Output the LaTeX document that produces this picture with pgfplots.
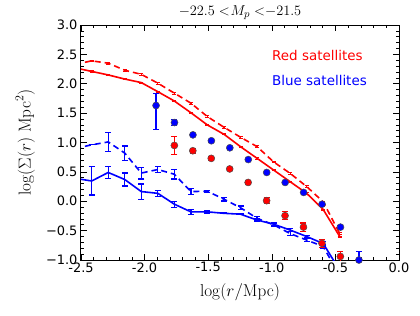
\documentclass[border=0pt]{standalone}
\usepackage[no-math]{fontspec}
\setmainfont{DejaVu Sans}
\usepackage{pgfplots}
\pgfplotsset{compat=1.18}
\usepackage{pgfplotstable}

\pgfplotstableread{
x y e
-2.546 2.27 0
-2.416 2.21 0.01
-2.286 2.15 0.01
-2.156 2.08 0.01
-2.026 2.02 0.01
-1.896 1.865 0.01
-1.766 1.706 0.01
-1.636 1.507 0.01
-1.506 1.298 0.01
-1.376 1.14 0.01
-1.246 0.929 0.01
-1.116 0.731 0.01
-0.986 0.532 0.01
-0.856 0.333 0.01
-0.726 0.135 0.01
-0.596 -0.14 0.01
-0.466 -0.60 0.01
}\redsolid

\pgfplotstableread{
x y e
-2.546 2.33 0
-2.416 2.39 0.015
-2.286 2.35 0.015
-2.156 2.23 0.015
-2.026 2.16 0.015
-1.896 2.01 0.015
-1.766 1.84 0.015
-1.636 1.67 0.015
-1.506 1.44 0.015
-1.376 1.26 0.015
-1.246 1.09 0.015
-1.116 0.93 0.015
-0.986 0.67 0.015
-0.856 0.475 0.015
-0.726 0.25 0.015
-0.596 -0.01 0.015
-0.466 -0.55 0.015
}\reddashed

\pgfplotstableread{
x y e
-2.546 0.39 0
-2.416 0.345 0.24
-2.286 0.49 0.10
-2.156 0.37 0.11
-2.026 0.165 0.13
-1.896 0.135 0.05
-1.766 -0.05 0.05
-1.636 -0.18 0.04
-1.506 -0.18 0.02
-1.376 -0.205 0.01
-1.246 -0.22 0.01
-1.116 -0.32 0.02
-0.986 -0.39 0.02
-0.856 -0.49 0.02
-0.726 -0.60 0.02
-0.596 -0.72 0.03
-0.466 -1.175 0
}\bluesolid

\pgfplotstableread{
x y e
-2.546 0.90 0
-2.416 0.96 0
-2.286 1.01 0.16
-2.156 0.82 0.12
-2.026 0.48 0.10
-1.896 0.54 0.05
-1.766 0.46 0.08
-1.636 0.165 0.05
-1.506 0.17 0.02
-1.376 0.035 0.03
-1.246 -0.11 0.03
-1.116 -0.29 0.03
-0.986 -0.40 0.03
-0.856 -0.55 0.03
-0.726 -0.66 0.03
-0.596 -0.77 0.04
-0.466 -1.27 0
}\bluedashed

\pgfplotstableread{
x y ep em
-1.766 0.95 0.15 0.15
-1.621 0.86 0.04 0.04
-1.476 0.73 0.03 0.03
-1.331 0.55 0.03 0.03
-1.186 0.32 0.03 0.03
-1.041 0.01 0.05 0.05
-0.896 -0.245 0.07 0.07
-0.751 -0.44 0.07 0.07
-0.606 -0.715 0.07 0.07
-0.461 -0.94 0.08 0.08
}\reddots

\pgfplotstableread{
x y ep em
-1.910 1.63 0.20 0.41
-1.765 1.34 0.05 0.05
-1.620 1.13 0.02 0.02
-1.475 1.03 0.02 0.02
-1.330 0.91 0.02 0.02
-1.185 0.71 0.02 0.02
-1.040 0.49 0.02 0.02
-0.895 0.32 0.02 0.02
-0.750 0.15 0.02 0.02
-0.605 -0.05 0.03 0.03
-0.460 -0.44 0.03 0.03
-0.315 -1.00 0.14 0.10
}\bluedots

\begin{document}
\begin{tikzpicture}
\begin{axis}[
  scale only axis, width=318bp, height=235bp,
  xmin=-2.5, xmax=0, ymin=-1, ymax=3,
  xtick={-2.5,-2,-1.5,-1,-0.5,0},
  xticklabels={-2.5,-2.0,-1.5,-1.0,-0.5,0.0},
  ytick={-1,-0.5,0,0.5,1,1.5,2,2.5,3},
  yticklabels={−1.0,−0.5,0.0,0.5,1.0,1.5,2.0,2.5,3.0},
  minor x tick num=4, minor y tick num=4,
  tick align=inside, tick pos=both,
  major tick length=6bp, minor tick length=3bp,
  tick style={black, line width=0.6bp},
  axis line style={line width=1bp},
  ticklabel style={font=\fontsize{13}{15}\selectfont},
  xticklabel style={yshift=1bp},
  xlabel={$\log(r/\mathrm{Mpc})$},
  ylabel={$\log(\Sigma(r)\;\mathrm{Mpc}^2)$},
  label style={font=\fontsize{18}{20}\selectfont},
  xlabel style={at={(axis description cs:0.5,-0.136)}, anchor=center},
  ylabel style={at={(axis description cs:-0.175,0.5)}, anchor=center},
  title={$-22.5\mkern5mu{<}\mkern1mu M_p\mkern5mu{<}{-}21.5$},
  title style={at={(axis description cs:0.5,1.014)}, anchor=base, font=\fontsize{15}{17}\selectfont},
  error bars/error bar style={solid, line width=1.2bp},
  error bars/error mark options={rotate=90, mark size=3bp, line width=1.2bp, solid},
]
\addplot[red, line width=1.6bp, mark=none,
  error bars/.cd, y dir=both, y explicit,
  error mark options={rotate=90, mark size=2bp, line width=0.8bp, solid}]
  table[x=x, y=y, y error=e] {\redsolid};
\addplot[red, line width=1.6bp, dash pattern=on 6bp off 4bp, mark=none,
  error bars/.cd, y dir=both, y explicit,
  error mark options={rotate=90, mark size=2bp, line width=0.8bp, solid}]
  table[x=x, y=y, y error=e] {\reddashed};
\addplot[blue, line width=1.6bp, mark=none,
  error bars/.cd, y dir=both, y explicit] table[x=x, y=y, y error=e] {\bluesolid};
\addplot[blue, line width=1.6bp, dash pattern=on 6bp off 4bp, mark=none,
  error bars/.cd, y dir=both, y explicit] table[x=x, y=y, y error=e] {\bluedashed};
\addplot[red, only marks, mark=*, mark size=3.5bp,
  mark options={fill=red, draw=black!70, line width=0.5bp},
  error bars/.cd, y dir=both, y explicit]
  table[x=x, y=y, y error plus=ep, y error minus=em] {\reddots};
\addplot[blue, only marks, mark=*, mark size=3.5bp,
  mark options={fill=blue, draw=black!70, line width=0.5bp},
  error bars/.cd, y dir=both, y explicit]
  table[x=x, y=y, y error plus=ep, y error minus=em] {\bluedots};
\node[anchor=west, inner sep=0pt, text=red, font=\fontsize{13.5}{15}\selectfont]
  at (axis description cs:0.6006,0.872) {Red satellites};
\node[anchor=west, inner sep=0pt, text=blue, font=\fontsize{13.5}{15}\selectfont]
  at (axis description cs:0.6006,0.766) {Blue satellites};
\coordinate (bbsw) at (axis description cs:-0.2547,-0.2340);
\coordinate (bbne) at (axis description cs:1.066,1.1064);
\end{axis}
\path (bbsw) rectangle (bbne);
\end{tikzpicture}
\end{document}
